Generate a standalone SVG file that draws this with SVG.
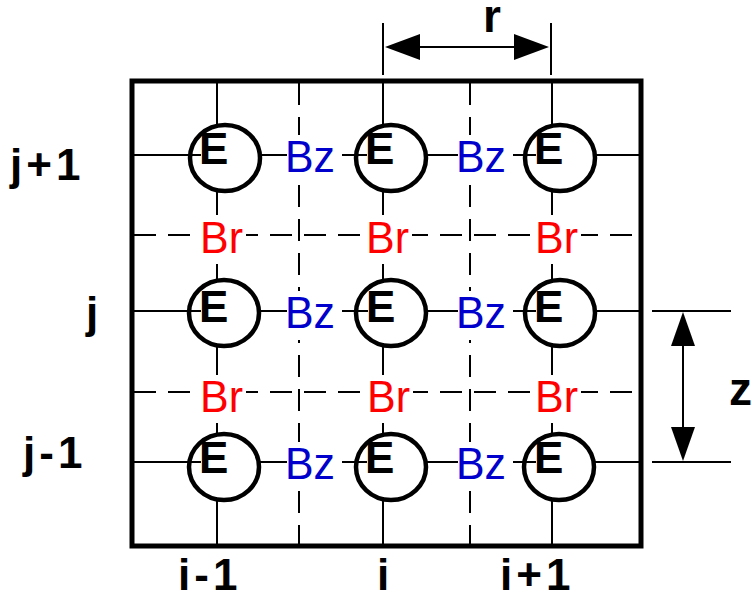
<svg xmlns="http://www.w3.org/2000/svg" width="752" height="594" viewBox="0 0 752 594">
<style>
.solid{stroke:#000;stroke-width:2;fill:none}
.dash{stroke:#000;stroke-width:2;fill:none;stroke-dasharray:22 12}
.ring{fill:#fff;stroke:#000;stroke-width:4.5}
.e{font-family:"Liberation Sans",Arial,sans-serif;font-weight:bold;font-size:44px;fill:#000}
.bz{font-family:"Liberation Sans",Arial,sans-serif;font-size:45px;fill:#0000CC}
.br{font-family:"Liberation Sans",Arial,sans-serif;font-size:45px;fill:#FF0000}
.lbl{font-family:"Liberation Sans",Arial,sans-serif;font-weight:bold;font-size:44px;fill:#000;letter-spacing:4px}
.bg{fill:#fff}
.head{fill:#000}
</style>
<rect width="752" height="594" fill="#fff"/>
<g id="connectors">
<line class="solid" x1="132" y1="155" x2="641" y2="155"/>
<line class="solid" x1="132" y1="311" x2="641" y2="311"/>
<line class="solid" x1="132" y1="462" x2="641" y2="462"/>
<line class="solid" x1="217" y1="81" x2="217" y2="546"/>
<line class="solid" x1="383" y1="81" x2="383" y2="546"/>
<line class="solid" x1="552" y1="81" x2="552" y2="546"/>
<line class="dash" x1="299" y1="83" x2="299" y2="546"/>
<line class="dash" x1="470" y1="83" x2="470" y2="546"/>
<line class="dash" x1="134" y1="235" x2="641" y2="235"/>
<line class="dash" x1="134" y1="392" x2="641" y2="392"/>
</g>
<rect id="frame" x="132" y="81" width="509" height="465" fill="none" stroke="#000" stroke-width="5"/>
<g id="E-1-3"><ellipse class="ring" cx="225" cy="158" rx="35" ry="33"/><line class="solid" x1="190" y1="155" x2="201" y2="155"/><text class="e" x="199" y="164">E</text></g>
<g id="E-2-3"><ellipse class="ring" cx="391" cy="158" rx="35" ry="33"/><line class="solid" x1="356" y1="155" x2="367" y2="155"/><text class="e" x="365" y="164">E</text></g>
<g id="E-3-3"><ellipse class="ring" cx="560" cy="158" rx="35" ry="33"/><line class="solid" x1="525" y1="155" x2="536" y2="155"/><text class="e" x="534" y="164">E</text></g>
<g id="E-1-2"><ellipse class="ring" cx="224" cy="313" rx="35" ry="33"/><line class="solid" x1="189" y1="311" x2="201" y2="311"/><text class="e" x="199" y="322">E</text></g>
<g id="E-2-2"><ellipse class="ring" cx="391" cy="313" rx="35" ry="33"/><line class="solid" x1="356" y1="311" x2="368" y2="311"/><text class="e" x="366" y="322">E</text></g>
<g id="E-3-2"><ellipse class="ring" cx="560" cy="313" rx="35" ry="33"/><line class="solid" x1="525" y1="311" x2="536" y2="311"/><text class="e" x="534" y="322">E</text></g>
<g id="E-1-1"><ellipse class="ring" cx="224" cy="467" rx="35" ry="33"/><line class="solid" x1="189" y1="462" x2="201" y2="462"/><text class="e" x="199" y="473">E</text></g>
<g id="E-2-1"><ellipse class="ring" cx="391" cy="467" rx="35" ry="33"/><line class="solid" x1="356" y1="462" x2="367" y2="462"/><text class="e" x="365" y="473">E</text></g>
<g id="E-3-1"><ellipse class="ring" cx="559" cy="467" rx="35" ry="33"/><line class="solid" x1="524" y1="462" x2="536" y2="462"/><text class="e" x="534" y="473">E</text></g>
<g id="Bz-1-3"><rect class="bg" x="287" y="135" width="55" height="49"/><text class="bz" x="285" y="172" textLength="50" lengthAdjust="spacingAndGlyphs">Bz</text></g>
<g id="Bz-2-3"><rect class="bg" x="458" y="135" width="55" height="49"/><text class="bz" x="456" y="172" textLength="50" lengthAdjust="spacingAndGlyphs">Bz</text></g>
<g id="Bz-1-2"><rect class="bg" x="287" y="291" width="55" height="49"/><text class="bz" x="285" y="328" textLength="50" lengthAdjust="spacingAndGlyphs">Bz</text></g>
<g id="Bz-2-2"><rect class="bg" x="458" y="291" width="55" height="49"/><text class="bz" x="456" y="328" textLength="50" lengthAdjust="spacingAndGlyphs">Bz</text></g>
<g id="Bz-1-1"><rect class="bg" x="287" y="442" width="55" height="49"/><text class="bz" x="285" y="479" textLength="50" lengthAdjust="spacingAndGlyphs">Bz</text></g>
<g id="Bz-2-1"><rect class="bg" x="458" y="442" width="55" height="49"/><text class="bz" x="456" y="479" textLength="50" lengthAdjust="spacingAndGlyphs">Bz</text></g>
<g id="Br-1-2"><rect class="bg" x="200" y="215" width="46" height="49"/><text class="br" x="200" y="253" textLength="43" lengthAdjust="spacingAndGlyphs">Br</text></g>
<g id="Br-2-2"><rect class="bg" x="366" y="215" width="46" height="49"/><text class="br" x="366" y="253" textLength="43" lengthAdjust="spacingAndGlyphs">Br</text></g>
<g id="Br-3-2"><rect class="bg" x="535" y="215" width="46" height="49"/><text class="br" x="535" y="253" textLength="43" lengthAdjust="spacingAndGlyphs">Br</text></g>
<g id="Br-1-1"><rect class="bg" x="200" y="375" width="46" height="48"/><text class="br" x="200" y="412" textLength="43" lengthAdjust="spacingAndGlyphs">Br</text></g>
<g id="Br-2-1"><rect class="bg" x="367" y="375" width="46" height="48"/><text class="br" x="367" y="412" textLength="43" lengthAdjust="spacingAndGlyphs">Br</text></g>
<g id="Br-3-1"><rect class="bg" x="535" y="375" width="46" height="48"/><text class="br" x="535" y="412" textLength="43" lengthAdjust="spacingAndGlyphs">Br</text></g>
<g id="labels">
<text class="lbl" x="10" y="180">j+1</text>
<text class="lbl" x="86" y="328">j</text>
<text class="lbl" x="23" y="468">j-1</text>
<text class="lbl" x="178" y="590">i-1</text>
<text class="lbl" x="377" y="590">i</text>
<text class="lbl" x="500" y="590">i+1</text>
<text class="lbl" x="483" y="32" style="font-size:46px">r</text>
<text class="lbl" x="729" y="405" style="font-size:46px">z</text>
</g>
<g id="dim-r">
<line class="solid" x1="383" y1="23" x2="383" y2="75"/>
<line class="solid" x1="551" y1="23" x2="551" y2="75"/>
<line class="solid" x1="415" y1="47" x2="518" y2="47"/>
<polygon class="head" points="385,47 420,34 420,60"/>
<polygon class="head" points="549,47 514,34 514,60"/>
</g>
<g id="dim-z">
<line class="solid" x1="652" y1="311" x2="731" y2="311"/>
<line class="solid" x1="652" y1="462" x2="731" y2="462"/>
<line class="solid" x1="683" y1="340" x2="683" y2="432"/>
<polygon class="head" points="683,312 671,346 695,346"/>
<polygon class="head" points="683,461 671,427 695,427"/>
</g>
</svg>
